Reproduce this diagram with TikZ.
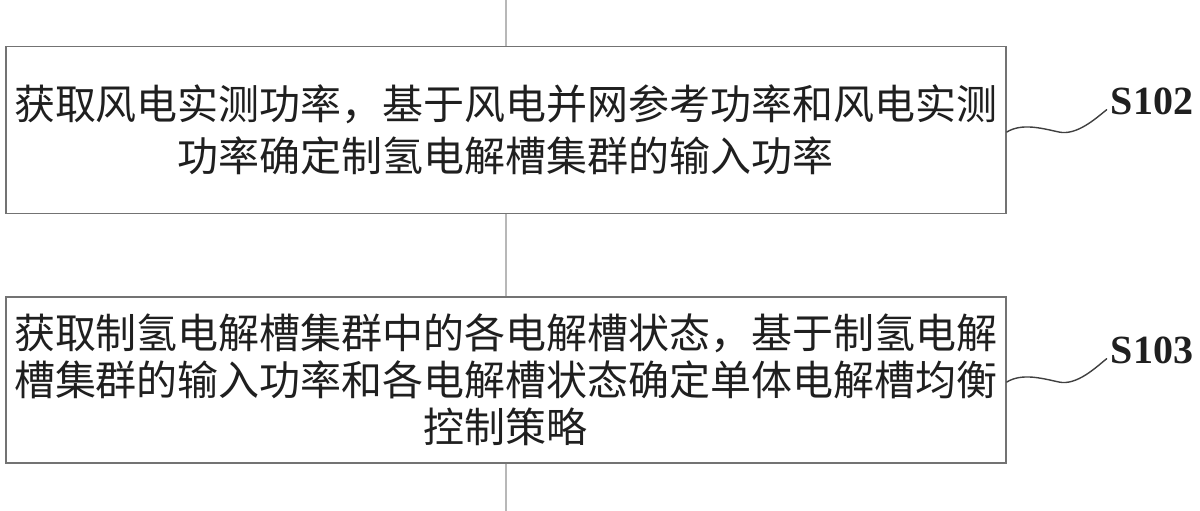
\documentclass[tikz,border=0pt]{standalone}
\usepackage{fontspec}
\setmainfont{Liberation Serif}
\newfontfamily\cjk{Noto Sans CJK SC}
\begin{document}
\begin{tikzpicture}[x=1pt,y=-1pt,
  stepbox/.style={draw=black!55, line width=1.6pt, minimum width=1000pt, inner sep=0pt,
    align=center, text=black!88},
  flowline/.style={draw=black!28, line width=2pt},
  wavy/.style={draw=black!75, line width=1.4pt, line cap=round},
  steplabel/.style={inner sep=0pt, font=\bfseries\fontsize{40}{44}\selectfont, text=black!88}]
\useasboundingbox[fill=white] (0,0) rectangle (1200,511);
\node[stepbox, minimum height=167pt, font=\cjk\fontsize{41}{52}\selectfont] (b1) at (506,130)
  {获取风电实测功率，基于风电并网参考功率和风电实测\\功率确定制氢电解槽集群的输入功率};
\node[stepbox, minimum height=166pt, font=\cjk\fontsize{41}{47}\selectfont] (b2) at (506,380)
  {获取制氢电解槽集群中的各电解槽状态，基于制氢电解\\槽集群的输入功率和各电解槽状态确定单体电解槽均衡\\控制策略};
\coordinate (top) at (506,0);
\coordinate (bot) at (506,511);
\draw[flowline] (top) -- (b1.north);
\draw[flowline] (b1.south) -- (b2.north);
\draw[flowline] (b2.south) -- (bot);
\node[steplabel] (s102) at (1152,101) {S102};
\node[steplabel] (s103) at (1152,350) {S103};
\coordinate (w1a) at ([yshift=-2pt]b1.east);
\coordinate (w1b) at ([xshift=-4pt,yshift=5pt]s102.south west);
\coordinate (w2a) at ([yshift=-2pt]b2.east);
\coordinate (w2b) at ([xshift=-4pt,yshift=5pt]s103.south west);
\draw[wavy] (w1a) .. controls +(15,-9) and +(-18,-4) .. ++(52,0) .. controls +(18,4) and +(-10,8) .. (w1b);
\draw[wavy] (w2a) .. controls +(15,-9) and +(-18,-4) .. ++(52,0) .. controls +(18,4) and +(-10,8) .. (w2b);
\end{tikzpicture}
\end{document}
